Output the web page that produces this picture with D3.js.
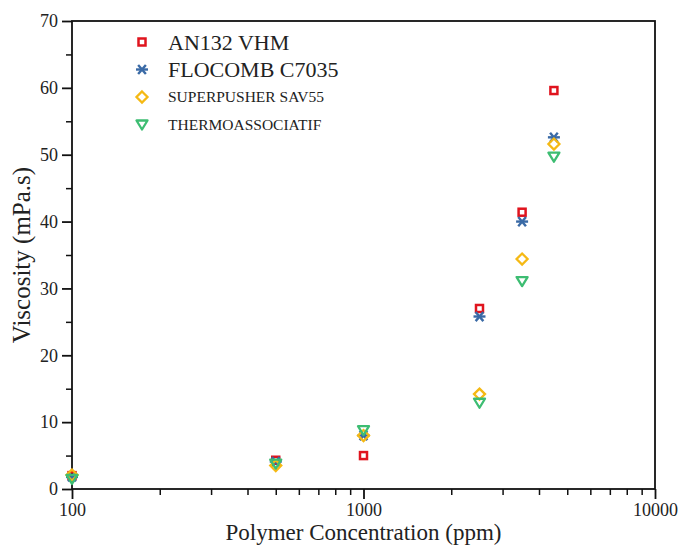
<!DOCTYPE html>
<html>
<head>
<meta charset="utf-8">
<script src="https://cdn.jsdelivr.net/npm/d3@7"></script>
<style>
  body { margin: 0; background: #fff; }
  svg text { font-family: "Liberation Serif", "Times New Roman", Times, serif !important; fill: #222; }
</style>
</head>
<body>
<div id="chart"></div>
<script>
// data
const concentrations = [100, 500, 1000, 2500, 3500, 4500];
const seriesNames = ['AN132 VHM', 'FLOCOMB C7035', 'SUPERPUSHER SAV55', 'THERMOASSOCIATIF'];
const an132 = [2.0, 4.3, 5.0, 27.0, 41.4, 59.6];
const flocomb = [1.8, 4.1, 8.0, 25.8, 40.0, 52.6];
const superpusher = [2.1, 3.5, 8.0, 14.2, 34.4, 51.6];
const thermo = [1.5, 3.8, 8.8, 12.9, 31.1, 49.7];
const yTicks = [0, 10, 20, 30, 40, 50, 60, 70];
const xTickLabels = [100, 1000, 10000];

const width = 680;
const height = 547;
const margin = {top: 21, right: 25, bottom: 58, left: 72};
const serif = '"Liberation Serif", "Times New Roman", Times, serif';

const colours = ['#e0141e', '#3a6aa6', '#f5b914', '#3dbd72'];
const shapes = ['square', 'star', 'diamond', 'triangle'];

const svg = d3.select('#chart')
    .append('svg')
        .attr('width', width)
        .attr('height', height)
        .attr('font-family', serif);

// SCALES
const x = d3.scaleLog()
    .domain([100, 10000])
    .range([margin.left, width - margin.right]);
const y = d3.scaleLinear()
    .domain([0, 70])
    .range([height - margin.bottom, margin.top]);

// frame
svg.append('rect')
    .attr('x', margin.left)
    .attr('y', margin.top)
    .attr('width', width - margin.right - margin.left)
    .attr('height', height - margin.bottom - margin.top)
    .attr('fill', 'none')
    .attr('stroke', '#111')
    .attr('stroke-width', 1.8);

// AXES
const minorX = [];
for (let d = 100; d < 10000; d *= 10) {
    for (let k = 2; k <= 9; k++) minorX.push(d * k);
}
svg.append('g')
    .attr('transform', `translate(0,${height - margin.bottom})`)
    .call(d3.axisBottom(x).tickValues(minorX).tickSize(6).tickFormat(''))
    .call(g => g.select('.domain').remove())
    .call(g => g.selectAll('line').attr('stroke', '#111').attr('stroke-width', 1.5));
svg.append('g')
    .attr('transform', `translate(0,${height - margin.bottom})`)
    .call(d3.axisBottom(x).tickValues(xTickLabels).tickSize(10).tickPadding(4)
        .tickFormat(d3.format('d')))
    .attr('font-family', serif)
    .call(g => g.select('.domain').remove())
    .call(g => g.selectAll('line').attr('stroke', '#111').attr('stroke-width', 1.8))
    .call(g => g.selectAll('.tick text')
        .style('font-size', '18px')
        .attr('fill', '#222'));

svg.append('g')
    .attr('transform', `translate(${margin.left},0)`)
    .call(d3.axisLeft(y).tickValues(d3.range(5, 70, 10)).tickSize(6).tickFormat(''))
    .call(g => g.select('.domain').remove())
    .call(g => g.selectAll('line').attr('stroke', '#111').attr('stroke-width', 1.5));
svg.append('g')
    .attr('transform', `translate(${margin.left},0)`)
    .call(d3.axisLeft(y).tickValues(yTicks).tickSize(10).tickPadding(4))
    .attr('font-family', serif)
    .call(g => g.select('.domain').remove())
    .call(g => g.selectAll('line').attr('stroke', '#111').attr('stroke-width', 1.8))
    .call(g => g.selectAll('.tick text')
        .style('font-size', '18px')
        .attr('fill', '#222'));

// axis titles
svg.append('text')
    .attr('x', (margin.left + width - margin.right) / 2)
    .attr('y', height - 7)
    .attr('text-anchor', 'middle')
    .style('font-size', '23px')
    .text('Polymer Concentration (ppm)');
svg.append('text')
    .attr('transform', `translate(30,${(margin.top + height - margin.bottom) / 2}) rotate(-90)`)
    .attr('text-anchor', 'middle')
    .style('font-size', '25px')
    .text('Viscosity (mPa.s)');

// MARKERS
function marker(g, shape, colour) {
    if (shape === 'square') {
        g.append('rect')
            .attr('x', -3.5).attr('y', -3.5)
            .attr('width', 7).attr('height', 7)
            .attr('fill', 'none').attr('stroke', colour).attr('stroke-width', 2.5);
    } else if (shape === 'star') {
        const r = 6;
        [0, 50, 130].forEach(a => {
            const rad = a * Math.PI / 180;
            g.append('line')
                .attr('x1', -r * Math.cos(rad)).attr('y1', -r * Math.sin(rad))
                .attr('x2', r * Math.cos(rad)).attr('y2', r * Math.sin(rad))
                .attr('stroke', colour).attr('stroke-width', 2.4);
        });
    } else if (shape === 'diamond') {
        g.append('path')
            .attr('d', 'M0,-5.5L5.5,0L0,5.5L-5.5,0Z')
            .attr('fill', 'none').attr('stroke', colour).attr('stroke-width', 2.3);
    } else {
        g.append('path')
            .attr('d', 'M-5.5,-4L5.5,-4L0,5Z')
            .attr('fill', 'none').attr('stroke', colour).attr('stroke-width', 2.3)
            .attr('stroke-linejoin', 'round');
    }
}

const allSeries = [an132, flocomb, superpusher, thermo];

allSeries.forEach((vals, s) => {
    svg.append('g')
        .attr('class', 'series')
        .selectAll('g')
        .data(vals)
        .join('g')
            .attr('transform', (d, i) => `translate(${x(concentrations[i])},${y(d)})`)
            .each(function() { marker(d3.select(this), shapes[s], colours[s]); });
});

// LEGEND
const legendSizes = ['22px', '22px', '15.5px', '15.5px'];
const legend = svg.append('g')
    .attr('transform', 'translate(142,42)');
seriesNames.forEach((name, i) => {
    const row = legend.append('g')
        .attr('transform', `translate(0,${i * 27.5})`);
    marker(row, shapes[i], colours[i]);
    row.append('text')
        .attr('x', 26)
        .attr('y', 0)
        .attr('dy', '0.35em')
        .style('font-size', legendSizes[i])
        .text(name);
});
</script>
</body>
</html>
